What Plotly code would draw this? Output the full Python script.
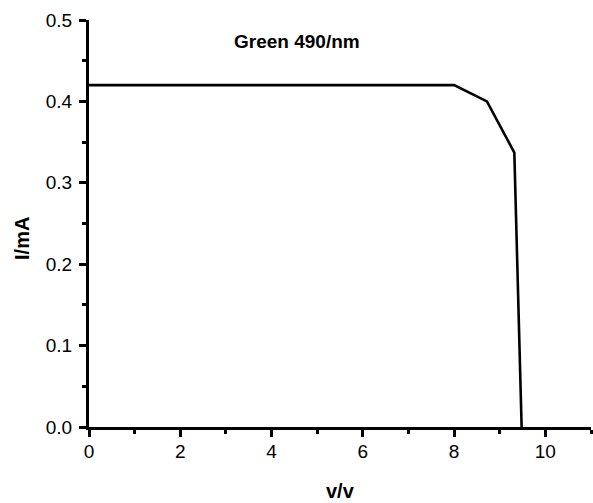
import plotly.graph_objects as go

voltage = [0, 8.0, 8.72, 9.32, 9.48]
current = [0.42, 0.42, 0.40, 0.337, 0.0]
title_text = "Green 490/nm"
x_label = "v/v"
y_label = "I/mA"

FAM = "Liberation Sans, Arial, sans-serif"

fig = go.Figure()
fig.add_trace(go.Scatter(x=voltage, y=current, mode="lines",
                         line=dict(color="black", width=2.6), showlegend=False))

fig.update_layout(
    width=593, height=503,
    margin=dict(l=89, r=2, t=20, b=76),
    paper_bgcolor="white", plot_bgcolor="white",
    font=dict(family=FAM, size=19, color="black"),
    annotations=[
        dict(text="<b>" + title_text + "</b>", x=4.56, y=0.473, xref="x", yref="y",
             showarrow=False, font=dict(size=19, family=FAM, color="black")),
        dict(text="<b>" + x_label + "</b>", x=0.5, y=0, xref="paper", yref="paper",
             yanchor="middle", xanchor="center", yshift=-64,
             showarrow=False, font=dict(size=20, family=FAM, color="black")),
        dict(text="<b>" + y_label + "</b>", x=0, y=0.462, xref="paper", yref="paper",
             xanchor="center", yanchor="middle", xshift=-67, textangle=-90,
             showarrow=False, font=dict(size=20, family=FAM, color="black")),
    ],
)
fig.update_xaxes(
    range=[0, 11], showgrid=False, zeroline=False,
    showline=True, linecolor="black", linewidth=3,
    ticks="outside", ticklen=7, tickwidth=3, tickcolor="black",
    tickvals=[0, 2, 4, 6, 8, 10],
    minor=dict(ticks="outside", ticklen=4, tickwidth=2.5, tickcolor="black", dtick=1, tick0=0),
    tickfont=dict(size=19), ticklabelstandoff=-2,
)
fig.update_yaxes(
    range=[0, 0.5], showgrid=False, zeroline=False,
    showline=True, linecolor="black", linewidth=3,
    ticks="outside", ticklen=7, tickwidth=3, tickcolor="black",
    tickvals=[0, 0.1, 0.2, 0.3, 0.4, 0.5], tickformat=".1f",
    minor=dict(ticks="outside", ticklen=4, tickwidth=2.5, tickcolor="black", dtick=0.05, tick0=0),
    tickfont=dict(size=19), ticklabelstandoff=3,
)
fig.write_html("out.html")
